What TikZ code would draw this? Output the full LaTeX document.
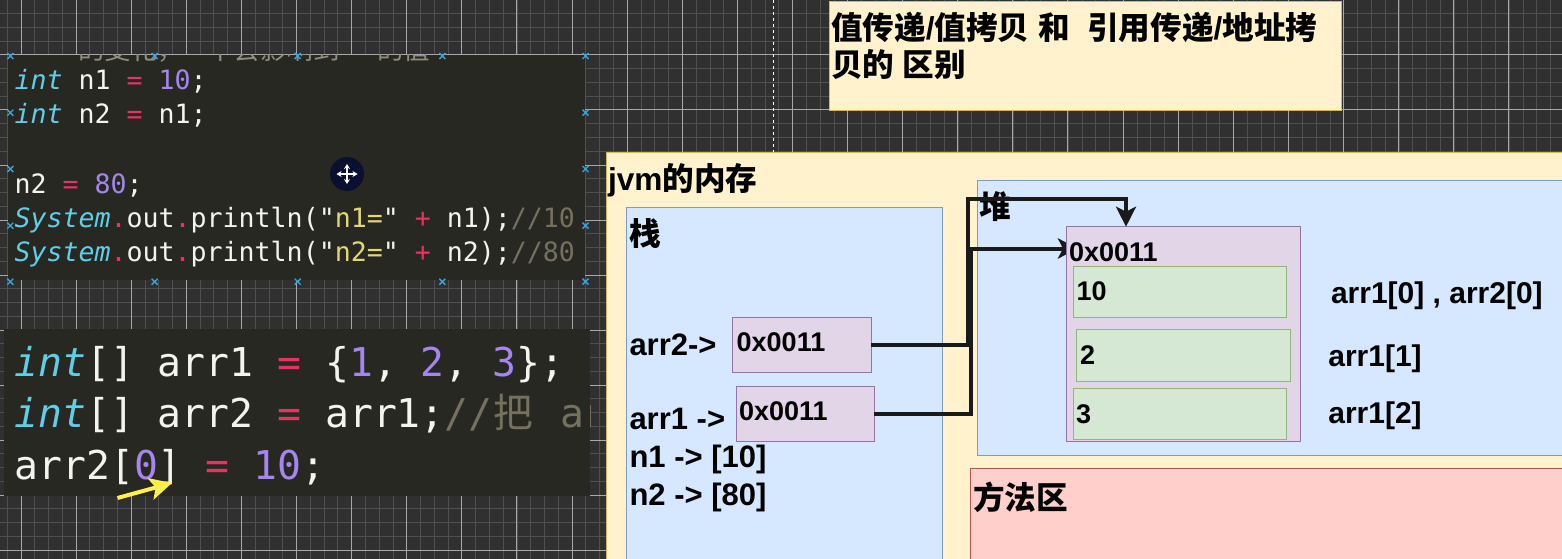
\documentclass[tikz,border=0pt]{standalone}
\usepackage{fontspec}
\setmainfont{Liberation Sans}
\setmonofont{DejaVu Sans Mono}
\newfontfamily\cjk{Noto Sans CJK SC}
\newcommand{\zh}[1]{{\cjk\bfseries #1}}
\newcommand{\fsz}[1]{\fontsize{#1}{#1}\selectfont}
\definecolor{gridbg}{HTML}{303030}
\definecolor{gridmin}{HTML}{505050}
\definecolor{gridmaj}{HTML}{A8A8A8}
\definecolor{codebg}{HTML}{272822}
\definecolor{kw}{HTML}{62CDE6}
\definecolor{num}{HTML}{A585EE}
\definecolor{op}{HTML}{E8325F}
\definecolor{strc}{HTML}{E2D873}
\definecolor{txtc}{HTML}{F4F4EE}
\definecolor{cmt}{HTML}{75715E}
\definecolor{ybox}{HTML}{FFF2CC}
\definecolor{yline}{HTML}{D6B656}
\definecolor{bbox}{HTML}{D5E8FF}
\definecolor{bline}{HTML}{7F9BBF}
\definecolor{pbox}{HTML}{E1D5E7}
\definecolor{pline}{HTML}{9673A6}
\definecolor{gbox}{HTML}{D5E8D4}
\definecolor{gline}{HTML}{93B57F}
\definecolor{rbox}{HTML}{FFCFCC}
\definecolor{rline}{HTML}{B85450}
\definecolor{xblue}{HTML}{3AA5D8}
\definecolor{cursorbg}{HTML}{0A1030}
\definecolor{yarrow}{HTML}{FFF04A}
\definecolor{linek}{HTML}{1A1A1A}
\usetikzlibrary{arrows.meta,calc}
\tikzset{
  panel/.style={rectangle,draw=#1,line width=1pt,inner sep=0pt,outer sep=0pt,anchor=north west},
  lab/.style={anchor=base west,inner sep=0pt,outer sep=0pt,text=black,font=\bfseries\fsz{31}},
  idx/.style={anchor=base west,inner sep=0pt,outer sep=0pt,text=black,font=\bfseries\fsz{30}},
  val/.style={anchor=base west,inner sep=0pt,outer sep=0pt,text=black,font=\bfseries\fsz{27}},
  head/.style={anchor=base west,inner sep=0pt,outer sep=0pt,text=black,font=\bfseries\fsz{31.6}},
  codea/.style={anchor=base west,inner sep=0pt,outer sep=0pt,text=txtc,font=\ttfamily\fsz{26.6}},
  codeb/.style={anchor=base west,inner sep=0pt,outer sep=0pt,text=txtc,font=\ttfamily\fsz{39.7}},
  conn/.style={draw=linek,line width=4pt,line join=miter},
  tip/.style={-{Stealth[length=20pt,width=20pt,inset=5pt]}},
}
\newcommand{\K}[1]{\textcolor{kw}{\textit{#1}}}
\newcommand{\N}[1]{\textcolor{num}{#1}}
\newcommand{\Op}[1]{\textcolor{op}{#1}}
\newcommand{\St}[1]{\textcolor{strc}{#1}}
\newcommand{\Cm}[1]{\textcolor{cmt}{#1}}
\begin{document}
\begin{tikzpicture}[x=1pt,y=-1pt]
\useasboundingbox (0,0) rectangle (1562,559);
\fill[gridbg] (0,0) rectangle (1562,559);
% grid
\foreach \k in {-1,...,112} \draw[gridmin,line width=1pt] ({21+13.78*\k},0) -- ({21+13.78*\k},559);
\foreach \k in {0,...,40} \draw[gridmin,line width=1pt] (0,{13.75*\k}) -- (1562,{13.75*\k});
\foreach \k in {0,...,28} \draw[gridmaj,line width=1pt] ({21+55.1*\k},0) -- ({21+55.1*\k},559);
\foreach \k in {0,...,10} \draw[gridmaj,line width=1pt] (0,{55*\k}) -- (1562,{55*\k});
\draw[white,line width=1pt,dashed] (773.8,0) -- (773.8,152);

% code block 1
\node[rectangle,fill=codebg,inner sep=0pt,anchor=north west,minimum width=577pt,minimum height=225pt] (codeA) at (8,55) {};
\begin{scope}
\clip (8,55) rectangle (585,280);
\node[codea,text=cmt!80] (ghostA) at (78,60) {{\cjk 的变化，}};
\node[codea,text=cmt!80] (ghostB) at (207,60) {{\cjk 不会影响到}};
\node[codea,text=cmt!80] (ghostC) at (377,60) {{\cjk 的值}};
\end{scope}
\node[codea] (a1) at (14.5,90) {\K{int} n1 \Op{=} \N{10};};
\node[codea] (a2) at (14.5,124) {\K{int} n2 \Op{=} n1;};
\node[codea] (a3) at (14.5,193) {n2 \Op{=} \N{80};};
\node[codea] (a4) at (14.5,227) {\K{System}\Op{.}out\Op{.}println("\St{n1=}" \Op{+} n1);\Cm{//10}};
\node[codea] (a5) at (14.5,261) {\K{System}\Op{.}out\Op{.}println("\St{n2=}" \Op{+} n2);\Cm{//80}};
\foreach \p in {(10.3,56),(154.6,56),(297.7,56),(442.4,56),(585.5,56),
                (10.3,112.7),(585.5,112.7),(10.3,169),(585.5,169),(10.3,225.7),(585.5,225.7),
                (10.3,281.7),(154.6,281.7),(297.7,281.7),(442.4,281.7),(585.5,281.7)}
  \draw[xblue,line width=1.4pt,shift={\p}] (-3,-3) -- (3,3) (-3,3) -- (3,-3);

% cursor
\node[circle,fill=cursorbg,minimum size=34pt,inner sep=0pt] (cursor) at (347,174) {};
\draw[white,line width=1.2pt,{Stealth[length=5pt,width=6pt]}-{Stealth[length=5pt,width=6pt]}] (336.5,174) -- (357.5,174);
\draw[white,line width=1.2pt,{Stealth[length=5pt,width=6pt]}-{Stealth[length=5pt,width=6pt]}] (347,164) -- (347,184);

% code block 2
\node[rectangle,fill=codebg,inner sep=0pt,anchor=north west,minimum width=586pt,minimum height=167pt] (codeB) at (4,329) {};
\begin{scope}
\clip (4,329) rectangle (590,496);
\node[codeb] (b1) at (14.5,376) {\K{int}[] arr1 \Op{=} \{\N{1}, \N{2}, \N{3}\};};
\node[codeb] (b2) at (14.5,427) {\K{int}[] arr2 \Op{=} arr1;\Cm{//}};
\node[codeb,text=cmt] (b2c) at (493,427) {{\cjk 把}};
\node[codeb,text=cmt] (b2d) at (560,427) {arr1};
\node[codeb] (b3) at (14.5,479) {arr2[\N{0}] \Op{=} \N{10};};
\end{scope}
\coordinate (yS) at (117.5,498);
\coordinate (yE) at (172,483);
\draw[yarrow,line width=4pt,-{Stealth[length=22pt,width=22pt,inset=5pt]}] (yS) -- (yE);

% title
\node[panel=yline,fill=ybox,minimum width=512pt,minimum height=109pt] (title) at (829,1.7) {};
\node[head] (t1) at (831,40) {\zh{值传递}/\zh{值拷贝} \zh{和}\ \ \zh{引用传递}/\zh{地址拷}};
\node[head] (t2) at (831,77) {\zh{贝的} \zh{区别}};

% jvm
\node[panel=yline,fill=ybox,minimum width=970pt,minimum height=420pt] (jvm) at (606,152) {};
\node[head] (jvmL) at (608,190) {jvm\zh{的内存}};
\node[panel=bline,fill=bbox,minimum width=316pt,minimum height=370pt] (stack) at (626.7,207.3) {};
\node[head] (stackL) at (629,245) {\zh{栈}};
\node[panel=bline,fill=bbox,minimum width=600pt,minimum height=275pt] (heap) at (977,180) {};
\node[head] (heapL) at (979,218) {\zh{堆}};
\node[panel=rline,fill=rbox,minimum width=600pt,minimum height=110pt] (method) at (970,468) {};
\node[head] (methodL) at (973,509) {\zh{方法区}};

% stack contents
\node[panel=pline,fill=pbox,minimum width=138.3pt,minimum height=55.4pt] (v2) at (732.7,317.3) {};
\node[panel=pline,fill=pbox,minimum width=138.3pt,minimum height=55.7pt] (v1) at (736,386) {};
\node[val] (v2t) at (736.7,351.7) {0x0011};
\node[val] (v1t) at (739,420.7) {0x0011};
\node[lab] (l2) at (629.5,355) {arr2->};
\node[lab] (l1) at (629.5,429.3) {arr1 ->};
\node[lab] (ln1) at (629.5,467) {n1 -> [10]};
\node[lab] (ln2) at (629.5,505) {n2 -> [80]};

% heap array (connector 1 goes beneath it)
\coordinate (inA) at (1078,248.5);
\draw[conn,tip] (v1.east) -- ++(97,0) |- (inA);
\node[panel=pline,fill=pbox,minimum width=234.4pt,minimum height=215pt] (arr) at (1066.3,226.7) {};
\node[val] (arrT) at (1069,261.7) {0x0011};
\node[panel=gline,fill=gbox,minimum width=213.7pt,minimum height=51.4pt] (e0) at (1073,266.3) {};
\node[panel=gline,fill=gbox,minimum width=213.7pt,minimum height=51.6pt] (e1) at (1076.3,329.7) {};
\node[panel=gline,fill=gbox,minimum width=213.7pt,minimum height=51.4pt] (e2) at (1073,388.3) {};
\node[val] (e0t) at (1076.5,300) {10};
\node[val] (e1t) at (1080,364) {2};
\node[val] (e2t) at (1076,423) {3};
\node[idx] (i0) at (1331,303.3) {arr1[0] , arr2[0]};
\node[idx] (i1) at (1328.3,366) {arr1[1]};
\node[idx] (i2) at (1328.3,423.3) {arr1[2]};

\coordinate (inB) at (1126,226.7);
\draw[conn,tip] (v2.east) -- ++(97,0) |- ($(inB)+(0,-27.7)$) -- (inB);
\end{tikzpicture}
\end{document}
